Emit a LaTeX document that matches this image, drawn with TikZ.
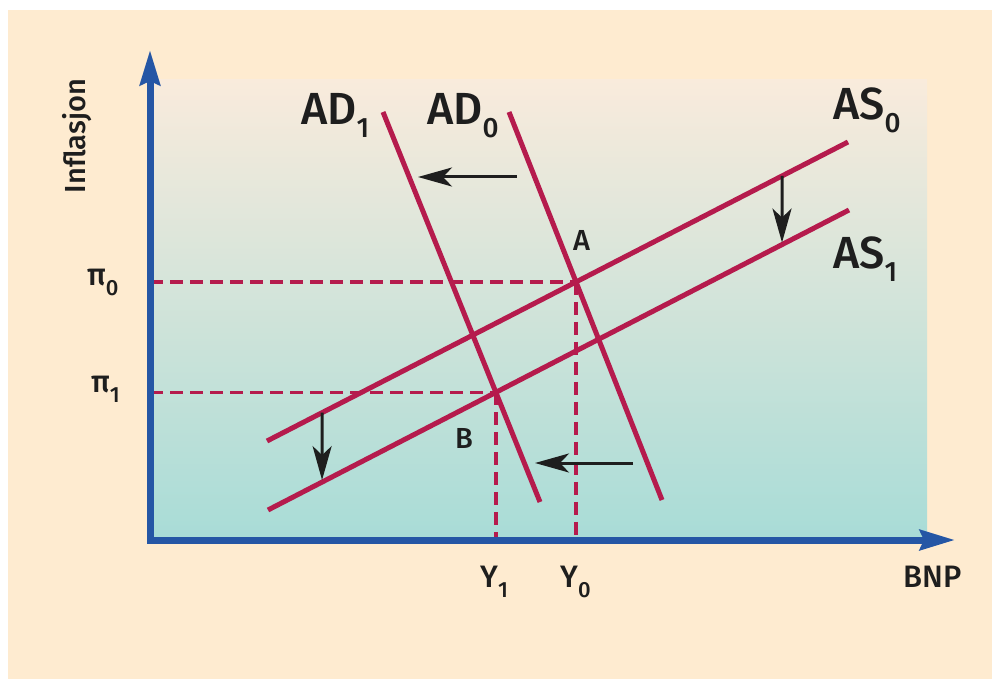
\documentclass[tikz,border=0pt]{standalone}
\usepackage{fontspec}
\setmainfont{Fira Sans}[UprightFont=* Medium]
\usepackage{graphicx}
\usepackage{tikz}
\usetikzlibrary{arrows.meta,calc,intersections}
\definecolor{paper}{HTML}{FEEBD0}
\definecolor{plottop}{HTML}{F9EBDC}
\definecolor{plotbottom}{HTML}{A8DCD7}
\definecolor{axisblue}{HTML}{2556A5}
\definecolor{crimson}{HTML}{B51B4D}
\definecolor{ink}{HTML}{1E1E1E}
\newcommand{\bigsub}[1]{\raisebox{-13pt}{\fontsize{28}{28}\selectfont #1}}
\newcommand{\smallsub}[1]{\raisebox{-10pt}{\fontsize{22}{22}\selectfont #1}}

\begin{document}
\begin{tikzpicture}[x=1pt,y=-1pt,
  axisline/.style={axisblue,line width=7pt,
    {Stealth[length=35pt,width=20pt,inset=4pt]}-{Stealth[length=35pt,width=20pt,inset=4pt]}},
  crv/.style={crimson,line width=5pt},
  guide/.style={crimson,line width=3.5pt,dash pattern=on 13pt off 7pt},
  move/.style={ink,line width=3pt,-{Stealth[length=34pt,width=19pt,inset=9pt]}},
  biglbl/.style={ink,font=\fontsize{45}{50}\selectfont,inner sep=0pt,anchor=base west},
  smalllbl/.style={ink,font=\fontsize{31}{36}\selectfont,inner sep=0pt,anchor=base west},
  ptlbl/.style={ink,font=\fontsize{29}{34}\selectfont,inner sep=0pt,anchor=base west}
]
\useasboundingbox (0,0) rectangle (992,679);
\fill[white] (0,0) rectangle (992,679);
\fill[paper] (8,10) rectangle (992,679);
\shade[top color=plottop,bottom color=plotbottom] (152,80) rectangle (927,540);

% axes and curves
\coordinate (o) at (150,540);
\coordinate (ytop) at (150,50);
\coordinate (xend) at (955,540);
\coordinate (as0l) at (267,441); \coordinate (as0r) at (848,142);
\coordinate (as1l) at (268,510); \coordinate (as1r) at (849,210);
\coordinate (ad0t) at (509,112); \coordinate (ad0b) at (662,500);
\coordinate (ad1t) at (383,112); \coordinate (ad1b) at (540,502);
\path[name path=as0] (as0l) -- (as0r);
\path[name path=as1] (as1l) -- (as1r);
\path[name path=ad0] (ad0t) -- (ad0b);
\path[name path=ad1] (ad1t) -- (ad1b);
\path[name intersections={of=as0 and ad0,by=A}];
\path[name intersections={of=as1 and ad1,by=B}];

\draw[guide] (A -| o) -- (A);
\draw[guide] (A) -- (A |- o);
\draw[guide] (B -| o) -- (B);
\draw[guide] (B) -- (B |- o);

\draw[crv] (as0l) -- (as0r);
\draw[crv] (as1l) -- (as1r);
\draw[crv] (ad0t) -- (ad0b);
\draw[crv] (ad1t) -- (ad1b);

% shifts
\coordinate (upfrom) at (517,177); \coordinate (upto) at (418,177);
\coordinate (lowfrom) at (633,463); \coordinate (lowto) at (535,463);
\coordinate (dl0) at ($(as0l)!0.095!(as0r)$);
\coordinate (dl1) at ($(as1l)!0.093!(as1r)$);
\coordinate (dr0) at ($(as0l)!0.8864!(as0r)$);
\coordinate (dr1) at ($(as1l)!0.8847!(as1r)$);
\draw[move] (upfrom) -- (upto);
\draw[move] (lowfrom) -- (lowto);
\draw[move,shorten >=2pt] (dl0) -- (dl1);
\draw[move,shorten >=2pt] (dr0) -- (dr1);

\draw[axisline] (ytop) -- (o) -- (xend);

% labels
\node[biglbl] (lad1) at (301,125) {AD\bigsub{1}};
\node[biglbl] (lad0) at (427,125) {AD\bigsub{0}};
\node[biglbl] (las0) at (833,120) {AS\bigsub{0}};
\node[biglbl] (las1) at (833,268) {AS\bigsub{1}};
\node[smalllbl] (lpi0) at (87,285) {π\smallsub{0}};
\node[smalllbl] (lpi1) at (91,392) {π\smallsub{1}};
\node[smalllbl] (ly1) at (480,587) {Y\smallsub{1}};
\node[smalllbl] (ly0) at (560,587) {Y\smallsub{0}};
\node[smalllbl] (lbnp) at (903,587) {BNP};
\node[ptlbl] (la) at (573,250) {A};
\node[ptlbl] (lb) at (455,448) {B};
\node[ptlbl,rotate=90,anchor=base] (linf) at (85,136) {Inflasjon};
\end{tikzpicture}
\end{document}
